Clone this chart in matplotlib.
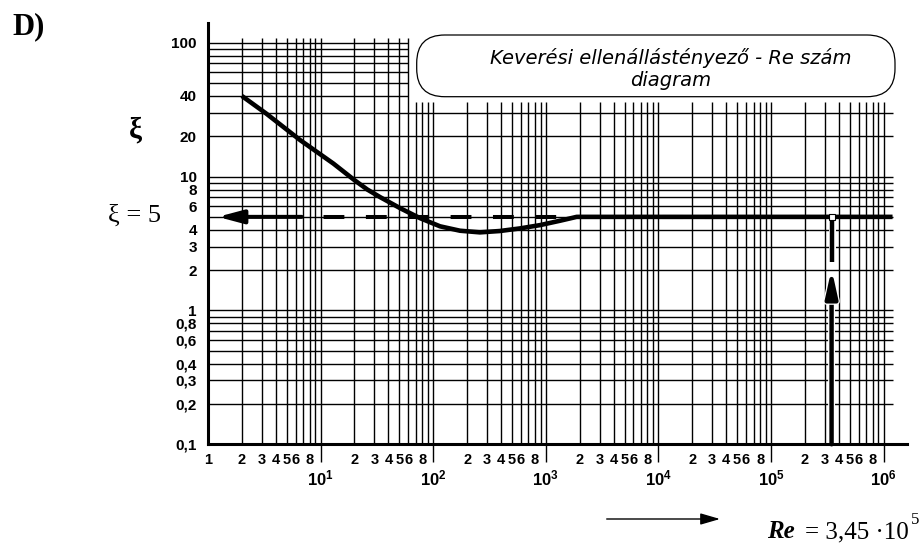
import numpy as np
import matplotlib
matplotlib.use("Agg")
import matplotlib.pyplot as plt
import matplotlib.transforms as mtransforms
from matplotlib.patches import FancyBboxPatch, FancyArrowPatch
from matplotlib.ticker import FixedLocator, FixedFormatter
import matplotlib.patheffects as pe

# mixing resistance coefficient vs Reynolds number
re_curve = [2, 3.3, 6.6, 13, 20, 26, 34, 51, 76, 115, 173, 260, 390, 590, 890, 1340, 1880, 1.2e6]
xi_curve = [40, 29.5, 18.7, 12.5, 9.4, 8.0, 7.0, 5.8, 4.9, 4.25, 3.94, 3.83, 3.92, 4.1, 4.34, 4.68, 5.0, 5.0]

# operating point
re_point = 3.45e5
xi_point = 5.0

# axis tick values / labels
y_ticks = [0.1, 0.2, 0.3, 0.4, 0.6, 0.8, 1, 2, 3, 4, 6, 8, 10, 20, 40, 100]
y_labels = ["0,1", "0,2", "0,3", "0,4", "0,6", "0,8", "1", "2", "3", "4", "6", "8", "10", "20", "40", "100"]
x_major = [10.0 ** d for d in range(1, 7)]
x_major_labels = [r"$\mathbf{10^{%d}}$" % d for d in range(1, 7)]
x_minor_mult = [2, 3, 4, 5, 6, 8]
x_minor = [1.0] + [m * 10.0 ** d for d in range(0, 6) for m in x_minor_mult]
x_minor_labels = ["1"] + [str(m) for d in range(0, 6) for m in x_minor_mult]

title_text = "Keverési ellenállástényező - Re szám\ndiagram"

plt.rcParams["mathtext.fontset"] = "custom"
plt.rcParams["mathtext.rm"] = "Liberation Sans:bold"
plt.rcParams["mathtext.bf"] = "Liberation Sans:bold"
plt.rcParams["lines.scale_dashes"] = False

W, H = 919, 545
fig = plt.figure(figsize=(W / 100, H / 100), dpi=100)
ax = fig.add_axes([208 / W, 1 - 444.3 / H, (906.7 - 208) / W, (444.3 - 23.3) / H])
ax.set_xscale("log")
ax.set_yscale("log")
ax.set_xlim(1, 10 ** 6.205)
ax.set_ylim(0.1, 10 ** 2.145)

# grid (drawn by hand, the chart paper has cut-outs)
vx = sorted(set([m * 10.0 ** d for d in range(0, 6) for m in range(2, 10)] + x_major))
hy = [m * 10.0 ** d for d in range(-1, 2) for m in range(1, 10)][1:] + [100]
for x in vx:
    top = 108 if x <= 60 else 36.2
    ax.vlines(x, 0.1, top, color="black", lw=1.0, zorder=1)
for y in hy:
    right = 60 if y >= 40 else 1.22e6
    ax.hlines(y, 1, right, color="black", lw=1.0, zorder=1)

for s in ["top", "right"]:
    ax.spines[s].set_visible(False)
for s in ["left", "bottom"]:
    ax.spines[s].set_linewidth(2.2)
    ax.spines[s].set_zorder(5)

ax.yaxis.set_major_locator(FixedLocator(y_ticks))
ax.yaxis.set_major_formatter(FixedFormatter(y_labels))
ax.yaxis.set_minor_locator(FixedLocator([]))
ax.tick_params(axis="y", which="both", length=0, pad=8)
for tick in ax.yaxis.get_major_ticks():
    lab = tick.label1
    lab.set_fontfamily("Liberation Sans")
    lab.set_fontweight("bold")
    lab.set_fontsize(11)
    # decade labels sit a little above their line on the original paper
    if lab.get_text() in ("100", "10", "1"):
        dy = 3.5
    elif lab.get_text() in ("8", "0,8"):
        dy = -1.5
    else:
        dy = 0
    if dy:
        lab.set_transform(lab.get_transform() +
                          mtransforms.ScaledTranslation(0, dy / 72, fig.dpi_scale_trans))

ax.xaxis.set_major_locator(FixedLocator(x_major))
ax.xaxis.set_major_formatter(FixedFormatter(x_major_labels))
ax.xaxis.set_minor_locator(FixedLocator(x_minor))
ax.xaxis.set_minor_formatter(FixedFormatter(x_minor_labels))
ax.tick_params(axis="x", which="major", length=13, width=1.0, pad=5, labelsize=12)
ax.tick_params(axis="x", which="minor", length=0, pad=6)
for t in ax.get_xticklabels(minor=True):
    t.set_fontfamily("Liberation Sans")
    t.set_fontweight("bold")
    t.set_fontsize(10.5)

# curve
ax.plot(re_curve, xi_curve, color="black", lw=3.3, solid_capstyle="butt", zorder=4)

# horizontal read-off line with arrow to the xi axis
ax.annotate("", xy=(1.22, xi_point), xytext=(6.8, xi_point),
            arrowprops=dict(arrowstyle="-|>,head_length=1.5,head_width=0.4",
                            lw=2.9, color="black", shrinkA=0, shrinkB=0,
                            mutation_scale=10), zorder=4)
ax.plot([6.8, re_point], [xi_point, xi_point], color="black", lw=2.9,
        linestyle=(15, (15, 15.5)), dash_capstyle="butt", zorder=3)

# vertical line from Re with arrow
halo = [pe.withStroke(linewidth=5, foreground="white")]
ax.annotate("", xy=(re_point, 2.05), xytext=(re_point, 0.1),
            arrowprops=dict(arrowstyle="-|>,head_length=1.6,head_width=0.35",
                            lw=3.2, color="black", shrinkA=0, shrinkB=0,
                            mutation_scale=10, path_effects=halo), zorder=4)
ax.plot([re_point, re_point], [xi_point, 2.3], color="black", lw=3.2,
        solid_capstyle="butt", zorder=4, path_effects=halo)
ax.plot([re_point], [xi_point], marker="s", ms=5, mfc="white", mec="black", mew=0.8, zorder=6)

# title box
x0, x1 = 416.7 / W, 895 / W
y0, y1 = 1 - 96.7 / H, 1 - 35 / H
box = FancyBboxPatch((x0, y0), x1 - x0, y1 - y0, transform=fig.transFigure,
                     boxstyle="round,pad=0,rounding_size=%f" % (28 / W),
                     mutation_aspect=W / H, fc="white", ec="black", lw=0.9, zorder=10)
fig.patches.append(box)
fig.text(670.8 / W, 1 - 69.5 / H, title_text, ha="center", va="center",
         family="DejaVu Sans", style="oblique", fontsize=14, linespacing=1.2, zorder=11)

# labels around the chart
fig.text(12 / W, 1 - 27 / H, "D)", ha="left", va="center", family="Liberation Serif",
         fontweight="bold", fontsize=22)
fig.text(135 / W, 1 - 130 / H, "ξ", ha="center", va="center", family="Liberation Serif",
         fontweight="bold", fontsize=21)
fig.text(134 / W, 1 - 216 / H, "ξ = 5", ha="center", va="center", family="Liberation Serif",
         fontsize=19)

fig.patches.append(FancyArrowPatch(
    (606.7 / W, 1 - 519 / H), (720 / W, 1 - 519 / H), transform=fig.transFigure,
    arrowstyle="-|>,head_length=1.2,head_width=0.35", mutation_scale=10,
    lw=1.0, color="black", shrinkA=0, shrinkB=0))
fig.text(766.7 / W, 1 - 538 / H, "Re", ha="left", va="baseline", family="Liberation Serif",
         fontweight="bold", style="italic", fontsize=18)
fig.text(805 / W, 1 - 538 / H, "= 3,45 ·10", ha="left", va="baseline", family="Liberation Serif",
         fontsize=18)
fig.text(910.5 / W, 1 - 524 / H, "5", ha="left", va="baseline", family="Liberation Serif",
         fontsize=12)

fig.savefig("out.png", dpi=100)
